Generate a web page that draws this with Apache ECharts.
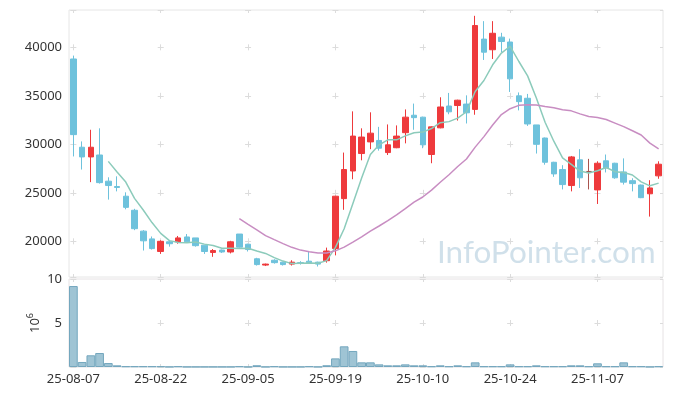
<!DOCTYPE html>
<html><head><meta charset="utf-8">
<script src="https://cdn.jsdelivr.net/npm/echarts@6/dist/echarts.min.js"></script>
<style>html,body{margin:0;padding:0;background:#fff}#c{width:673px;height:396px}</style>
</head><body><div id="c"></div>
<script>
const dates = ['25-08-07','25-08-08','25-08-11','25-08-12','25-08-13','25-08-14','25-08-18','25-08-19','25-08-20','25-08-21','25-08-22','25-08-25','25-08-26','25-08-27','25-08-28','25-08-29','25-09-01','25-09-02','25-09-03','25-09-04','25-09-05','25-09-08','25-09-09','25-09-10','25-09-11','25-09-12','25-09-15','25-09-16','25-09-17','25-09-18','25-09-19','25-09-22','25-09-23','25-09-24','25-09-25','25-09-26','25-09-29','25-09-30','25-10-01','25-10-02','25-10-10','25-10-13','25-10-14','25-10-15','25-10-16','25-10-17','25-10-20','25-10-21','25-10-22','25-10-23','25-10-24','25-10-27','25-10-28','25-10-29','25-10-30','25-10-31','25-11-03','25-11-04','25-11-05','25-11-06','25-11-07','25-11-10','25-11-11','25-11-12','25-11-13','25-11-14','25-11-17','25-11-18'];
const open  = [38800,29700,28700,28900,26200,25650,24650,23200,21050,20250,18950,19950,19950,20450,20350,19600,18850,19100,18900,20750,19700,18200,17550,18050,17850,17650,17800,17950,17850,18000,19250,24400,27250,29050,30250,30400,29150,29650,31200,33000,32800,28950,31700,33950,34000,34150,33600,40850,39750,41050,40550,35000,34750,32000,30650,28150,27400,25750,28400,27200,25300,28300,28050,27150,26250,25800,24900,26750];
const close = [31000,28700,29700,26050,25750,25550,23500,21300,20050,19250,20000,19750,20350,19950,19550,18950,19050,18900,19950,19400,19150,17600,17650,17800,17600,17850,17750,17800,17650,19000,24650,27400,30850,30750,31150,29600,29950,30850,32800,32750,29950,31800,33850,33350,34550,33250,42250,39500,41450,40600,36750,34400,32100,30000,28150,26950,25850,28700,26550,27200,28050,27550,26550,26100,25950,24500,25500,27950];
const low   = [28750,27400,26100,25950,24300,25150,23300,21150,19050,19150,18700,19450,19750,19950,19450,18700,18400,18800,18750,19350,18950,17500,17450,17700,17500,17500,17600,17750,17400,17800,18550,23250,26400,28350,29500,29350,28900,29600,30100,31500,29600,28050,31650,33100,32450,32150,33050,38700,38800,39500,35400,33500,31900,29050,27900,26650,25350,25150,25500,25350,23850,27100,26450,25850,25150,24450,22550,26450];
const high  = [39150,30300,31500,31650,26600,26700,25050,23350,21150,20500,20100,20050,20550,20750,20350,19600,19200,19150,20050,20750,19750,18300,17700,18150,17900,18050,17950,19000,17900,19350,24700,29150,33400,31650,33300,31800,32050,31950,33600,34200,32850,31850,34850,35300,34600,35050,43250,42700,42700,41500,40900,35350,35200,32000,30700,28200,27850,28800,29500,28500,28250,28950,28100,28550,26500,25850,26300,28250];
const volume = [9.2,0.57,1.33,1.59,0.45,0.19,0.08,0.08,0.08,0.08,0.08,0.02,0.08,0.02,0.02,0.02,0.02,0.02,0.02,0.08,0.02,0.2,0.02,0.08,0.02,0.02,0.02,0.08,0.02,0.2,0.98,2.35,1.82,0.53,0.53,0.3,0.19,0.19,0.3,0.19,0.19,0.08,0.19,0.08,0.19,0.08,0.53,0.08,0.08,0.08,0.3,0.08,0.08,0.19,0.08,0.08,0.08,0.19,0.19,0.08,0.42,0.08,0.08,0.53,0.08,0.08,0.02,0.08];
const priceTicks = [20000,25000,30000,35000,40000];
const volTicks = [5];
const maPeriods = [5, 20];

const ohlc = dates.map((d,i)=>[open[i], close[i], low[i], high[i]]);
function movingAvg(n){
  return close.map((c,i)=>{
    if(i<n-1) return '-';
    let s=0; for(let k=i-n+1;k<=i;k++) s+=close[k];
    return +(s/n).toFixed(1);
  });
}

// layout
const GL=69, GR=10, W=673-GL-GR;
const MT=10, MH=267, VT=279, VH=88;
const PMIN=16320, PMAX=43850;
const ARM=3;
const band = W/dates.length;
function hDash(){
  const cs=[]; for(let k=0;band*(0.5+10*k)<W-ARM;k++) cs.push(band*(0.5+10*k));
  const a=[0, cs[0]-ARM];
  for(let k=1;k<cs.length;k++){ a.push(2*ARM, cs[k]-cs[k-1]-2*ARM); }
  a.push(2*ARM, W-cs[cs.length-1]-2*ARM, ARM);
  return a;
}
function vDash(H, offs){
  const a=[ARM, offs[0]-2*ARM];
  for(let k=1;k<offs.length;k++){ a.push(2*ARM, offs[k]-offs[k-1]-2*ARM); }
  a.push(2*ARM, H-offs[offs.length-1]-2*ARM, ARM);
  return a;
}
const mainOffs = priceTicks.slice().reverse().map(v=>(PMAX-v)/(PMAX-PMIN)*MH);
const volOffs = volTicks.map(v=>(10-v)/10*VH);
const crossColor = '#dcdcdc';
const FONT = 'Noto Sans';

const chart = echarts.init(document.getElementById('c'));
chart.setOption({
  animation:false,
  backgroundColor:'#fff',
  grid:[
    {left:GL, right:GR, top:MT, height:MH, show:true, borderColor:'#e6e6e6', borderWidth:1, backgroundColor:'transparent'},
    {left:GL, right:GR, top:VT, height:VH, show:true, borderColor:'#e6e2e4', borderWidth:1, backgroundColor:'transparent'}
  ],
  xAxis:[
    {type:'category', data:dates, gridIndex:0, boundaryGap:true,
     axisLine:{show:false}, axisTick:{show:false}, axisLabel:{show:false},
     splitLine:{show:true, interval:9, alignWithLabel:true, lineStyle:{color:crossColor, width:1, type:vDash(MH, mainOffs)}}},
    {type:'category', data:dates, gridIndex:1, boundaryGap:true,
     axisLine:{show:false}, axisTick:{show:false},
     axisLabel:{interval:9, color:'#333', fontSize:13, fontFamily:FONT, margin:6},
     splitLine:{show:true, interval:9, alignWithLabel:true, lineStyle:{color:crossColor, width:1, type:vDash(VH, volOffs)}}}
  ],
  yAxis:[
    {type:'value', gridIndex:0, min:PMIN, max:PMAX, scale:true,
     axisLine:{show:false}, axisTick:{show:false},
     axisLabel:{color:'#333', fontSize:13, fontFamily:FONT, margin:7, showMinLabel:false, showMaxLabel:false,
       formatter:v=>String(v)},
     splitLine:{show:true, lineStyle:{color:crossColor, width:1, type:hDash()}}},
    {type:'value', gridIndex:1, min:0, max:10, interval:5,
     axisLine:{show:false}, axisTick:{show:false},
     axisLabel:{color:'#333', fontSize:13, fontFamily:FONT, margin:7, showMinLabel:false, formatter:v=>String(v)},
     splitLine:{show:true, lineStyle:{color:crossColor, width:1, type:hDash()}},
     name:'{a|10}{b|6}', nameLocation:'middle', nameRotate:90, nameGap:27, nameMoveOverlap:false,
     nameTextStyle:{color:'#333', fontFamily:FONT,
       rich:{a:{fontSize:13, color:'#333', fontFamily:FONT, lineHeight:16, verticalAlign:'bottom'},
             b:{fontSize:9, color:'#333', fontFamily:FONT, lineHeight:16, verticalAlign:'top'}}}}
  ],
  graphic:[{type:'text', left:437, top:237, z:-1, silent:true,
    style:{text:'InfoPointer.com', fill:'rgba(170,198,216,0.55)', font:'31.5px Lato'}}],
  series:[
    {type:'candlestick', name:'price', xAxisIndex:0, yAxisIndex:0, data:ohlc, barWidth:6,
     itemStyle:{color:'#ee3a3c', color0:'#6ec2dc', borderColor:'#ee3a3c', borderColor0:'#6ec2dc', borderColorDoji:'#a9544e', borderWidth:1}},
    {type:'line', name:'MA5', xAxisIndex:0, yAxisIndex:0, data:movingAvg(maPeriods[0]), showSymbol:false, symbol:'none',
     lineStyle:{color:'#8ccbbb', width:1.5}, z:3},
    {type:'line', name:'MA20', xAxisIndex:0, yAxisIndex:0, data:movingAvg(maPeriods[1]), showSymbol:false, symbol:'none',
     lineStyle:{color:'#c88dc2', width:1.5}, z:3},
    {type:'bar', name:'volume', xAxisIndex:1, yAxisIndex:1, data:volume, barWidth:'100%',
     itemStyle:{color:'#9fc4d4', borderColor:'#74a7be', borderWidth:1}}
  ]
});
</script></body></html>
